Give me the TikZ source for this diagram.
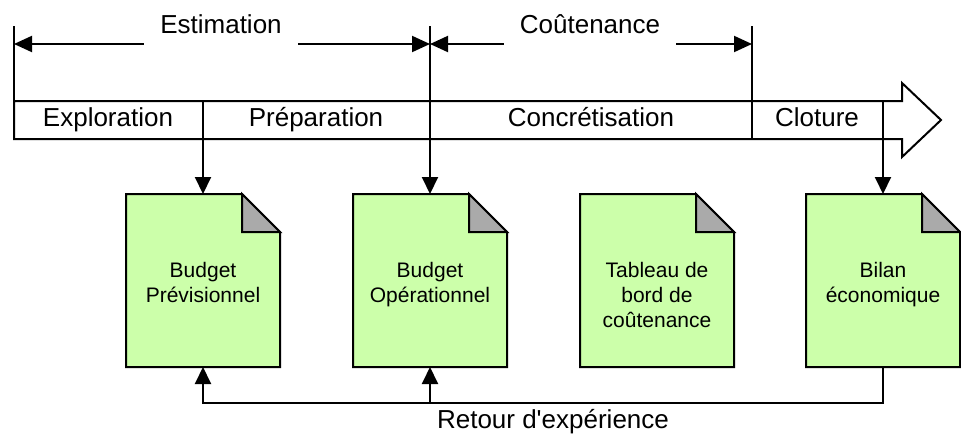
\documentclass[tikz,border=0pt]{standalone}
\usepackage{fontspec}
\setmainfont{Liberation Sans}[Ligatures=TeXOff]
\usetikzlibrary{arrows.meta,calc}
\definecolor{docgreen}{RGB}{204,255,170}
\definecolor{foldgray}{RGB}{170,170,170}
\newcommand\drawdoc[1]{%
  \draw[fill=docgreen] (#1.north west) -- ([xshift=-38pt]#1.north east) -- ([yshift=-38pt]#1.north east) -- (#1.south east) -- (#1.south west) -- cycle;
  \draw[fill=foldgray] ([xshift=-38pt]#1.north east) -- ([xshift=-38pt,yshift=-38pt]#1.north east) -- ([yshift=-38pt]#1.north east) -- cycle;}
\begin{document}
\begin{tikzpicture}[x=1pt,y=-1pt, line width=2pt,
  arr/.style={-{Triangle[length=17pt,width=16pt]}},
  dimline/.style={{Triangle[length=18pt,width=16pt]}-{Triangle[length=18pt,width=16pt]}},
  phase/.style={font=\fontsize{26}{30}\selectfont, inner sep=0pt, anchor=base},
  spanlabel/.style={font=\fontsize{26}{30}\selectfont, fill=white, inner xsep=16pt, inner ysep=0pt, text depth=14pt, anchor=base},
  doc/.style={minimum width=152pt, minimum height=171pt, inner sep=0pt},
  doctext/.style={font=\fontsize{21}{25}\selectfont, align=center, inner sep=0pt, anchor=north},
  ]
\useasboundingbox (0,0) rectangle (961,434);

% phase bar
\draw[fill=white] (14,101) -- (902,101) -- (902,83) -- (941,120) -- (902,157) -- (902,139) -- (14,139) -- cycle;
\node[phase] (ph1) at (108,126) {Exploration};
\node[phase] (ph2) at (316,126) {Préparation};
\node[phase] (ph3) at (591,126) {Concrétisation};
\node[phase] (ph4) at (817,126) {Cloture};

% coordinates
\coordinate (t0) at (14,26);
\coordinate (t1) at (430,26);
\coordinate (t2) at (752,26);
\coordinate (b0) at (14,101);
\coordinate (b1) at (203,101);
\coordinate (b2) at (752,139);
\coordinate (b3) at (883,101);
\coordinate (e0) at (14,44);
\coordinate (e1) at (430,44);
\coordinate (e2) at (752,44);

% documents
\node[doc] (d1) at (203,280.5) {};
\node[doc] (d2) at (430,280.5) {};
\node[doc] (d3) at (657,280.5) {};
\node[doc] (d4) at (883,280.5) {};
\drawdoc{d1}\drawdoc{d2}\drawdoc{d3}\drawdoc{d4}
\node[doctext] (d1t) at ($(d1.north)+(0,67)$) {Budget\\Prévisionnel};
\node[doctext] (d2t) at ($(d2.north)+(0,67)$) {Budget\\Opérationnel};
\node[doctext] (d3t) at ($(d3.north)+(0,67)$) {Tableau de\\bord de\\coûtenance};
\node[doctext] (d4t) at ($(d4.north)+(0,67)$) {Bilan\\économique};

% verticals
\draw (t0) -- (b0);
\draw[arr] (t1) -- (d2.north);
\draw (t2) -- (b2);
\draw[arr] (b1) -- (d1.north);
\draw[arr] (b3) -- (d4.north);

% span arrows
\draw[dimline] (e0) -- (e1);
\draw[dimline] (e1) -- (e2);
\node[spanlabel] (est) at (221,33) {Estimation};
\node[spanlabel] (cout) at (590,33) {Coûtenance};

% feedback
\coordinate (r0) at (203,403);
\coordinate (r1) at (430,403);
\draw[arr] (d4.south) |- (r0) -- (d1.south);
\draw[arr] (r1) -- (d2.south);
\node[phase] (ret) at (553,428) {Retour d'expérience};
\end{tikzpicture}
\end{document}
